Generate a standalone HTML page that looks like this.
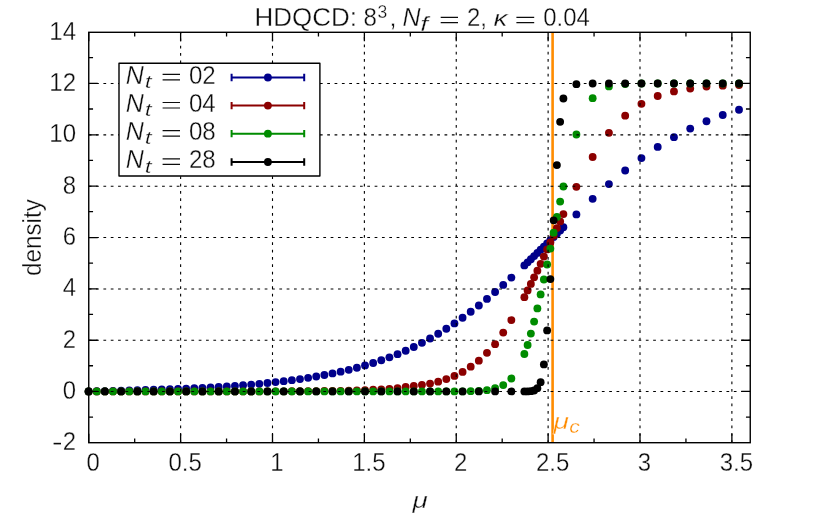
<!DOCTYPE html>
<html><head><meta charset="utf-8"><title>HDQCD density</title>
<style>html,body{margin:0;padding:0;background:#fff;}svg{display:block;will-change:transform;font-family:"Liberation Sans",sans-serif;}text{stroke:#fff;stroke-width:0.32px;}</style>
</head><body>
<svg width="831" height="519" viewBox="0 0 831 519">
<rect x="0" y="0" width="831" height="519" fill="#fff"/>
<text x="254.4" y="26.3" font-size="25" fill="#0c0c0c" textLength="102.5" lengthAdjust="spacingAndGlyphs">HDQCD:</text>
<text x="363.6" y="26.3" font-size="25" fill="#0c0c0c" textLength="13.4" lengthAdjust="spacingAndGlyphs">8</text>
<text x="377.5" y="17.6" font-size="17.5" fill="#0c0c0c">3</text>
<text x="389.5" y="26.3" font-size="25" fill="#0c0c0c">,</text>
<text x="402.6" y="26.3" font-size="25" font-style="italic" fill="#0c0c0c">N</text>
<text x="420.3" y="30.8" font-size="20" font-style="italic" fill="#0c0c0c" textLength="7.8" lengthAdjust="spacingAndGlyphs">f</text>
<path d="M440.7 17.3 H458 M440.7 22.6 H458 M516.4 17.3 H534.2 M516.4 22.6 H534.2" stroke="#0c0c0c" stroke-width="1.2"/>
<text x="466.9" y="26.3" font-size="25" fill="#0c0c0c" textLength="20" lengthAdjust="spacingAndGlyphs">2,</text>
<text x="493.6" y="26.3" font-size="22.5" font-style="italic" fill="#0c0c0c" textLength="14" lengthAdjust="spacingAndGlyphs">&#954;</text>
<text x="543.2" y="26.3" font-size="25" fill="#0c0c0c" textLength="46.6" lengthAdjust="spacingAndGlyphs">0.04</text>
<line x1="552.6" y1="32.3" x2="552.6" y2="442.7" stroke="#ff8c00" stroke-width="2.6"/>
<g fill="#00008b"><circle cx="88.60" cy="391.45" r="3.92"/><circle cx="96.73" cy="391.26" r="3.92"/><circle cx="104.86" cy="391.07" r="3.92"/><circle cx="112.99" cy="390.87" r="3.92"/><circle cx="121.12" cy="390.67" r="3.92"/><circle cx="129.25" cy="390.46" r="3.92"/><circle cx="137.38" cy="390.24" r="3.92"/><circle cx="145.51" cy="390.00" r="3.92"/><circle cx="153.64" cy="389.76" r="3.92"/><circle cx="161.77" cy="389.49" r="3.92"/><circle cx="169.90" cy="389.21" r="3.92"/><circle cx="178.03" cy="388.90" r="3.92"/><circle cx="186.16" cy="388.57" r="3.92"/><circle cx="194.29" cy="388.21" r="3.92"/><circle cx="202.42" cy="387.82" r="3.92"/><circle cx="210.55" cy="387.39" r="3.92"/><circle cx="218.68" cy="386.92" r="3.92"/><circle cx="226.81" cy="386.41" r="3.92"/><circle cx="234.94" cy="385.85" r="3.92"/><circle cx="243.07" cy="385.24" r="3.92"/><circle cx="251.20" cy="384.56" r="3.92"/><circle cx="259.33" cy="383.82" r="3.92"/><circle cx="267.46" cy="383.01" r="3.92"/><circle cx="275.59" cy="382.12" r="3.92"/><circle cx="283.72" cy="381.18" r="3.92"/><circle cx="291.85" cy="380.16" r="3.92"/><circle cx="299.98" cy="379.05" r="3.92"/><circle cx="308.11" cy="377.83" r="3.92"/><circle cx="316.24" cy="376.50" r="3.92"/><circle cx="324.37" cy="375.04" r="3.92"/><circle cx="332.50" cy="373.45" r="3.92"/><circle cx="340.63" cy="371.70" r="3.92"/><circle cx="348.76" cy="369.80" r="3.92"/><circle cx="356.89" cy="367.71" r="3.92"/><circle cx="365.02" cy="365.45" r="3.92"/><circle cx="373.15" cy="362.97" r="3.92"/><circle cx="381.28" cy="360.29" r="3.92"/><circle cx="389.41" cy="357.37" r="3.92"/><circle cx="397.54" cy="354.20" r="3.92"/><circle cx="405.67" cy="350.77" r="3.92"/><circle cx="413.80" cy="346.97" r="3.92"/><circle cx="421.93" cy="342.87" r="3.92"/><circle cx="430.06" cy="338.47" r="3.92"/><circle cx="438.19" cy="333.76" r="3.92"/><circle cx="446.32" cy="328.73" r="3.92"/><circle cx="454.45" cy="323.39" r="3.92"/><circle cx="462.58" cy="317.72" r="3.92"/><circle cx="470.71" cy="311.74" r="3.92"/><circle cx="478.84" cy="305.46" r="3.92"/><circle cx="486.97" cy="298.88" r="3.92"/><circle cx="495.10" cy="292.02" r="3.92"/><circle cx="503.23" cy="284.91" r="3.92"/><circle cx="511.36" cy="277.57" r="3.92"/><circle cx="524.37" cy="265.41" r="3.92"/><circle cx="527.62" cy="262.32" r="3.92"/><circle cx="530.87" cy="259.22" r="3.92"/><circle cx="534.12" cy="256.09" r="3.92"/><circle cx="537.38" cy="252.94" r="3.92"/><circle cx="540.63" cy="249.77" r="3.92"/><circle cx="543.88" cy="246.58" r="3.92"/><circle cx="547.13" cy="243.38" r="3.92"/><circle cx="550.38" cy="240.17" r="3.92"/><circle cx="553.64" cy="236.94" r="3.92"/><circle cx="556.89" cy="233.71" r="3.92"/><circle cx="560.14" cy="230.47" r="3.92"/><circle cx="563.39" cy="227.24" r="3.92"/><circle cx="576.40" cy="214.38" r="3.92"/><circle cx="592.66" cy="198.84" r="3.92"/><circle cx="608.92" cy="184.11" r="3.92"/><circle cx="625.18" cy="170.48" r="3.92"/><circle cx="641.44" cy="158.07" r="3.92"/><circle cx="657.70" cy="146.95" r="3.92"/><circle cx="673.96" cy="137.14" r="3.92"/><circle cx="690.22" cy="128.58" r="3.92"/><circle cx="706.48" cy="121.28" r="3.92"/><circle cx="722.74" cy="115.04" r="3.92"/><circle cx="739.00" cy="109.76" r="3.92"/></g>
<g fill="#8b0000"><circle cx="88.60" cy="391.45" r="3.92"/><circle cx="96.73" cy="391.45" r="3.92"/><circle cx="104.86" cy="391.45" r="3.92"/><circle cx="112.99" cy="391.45" r="3.92"/><circle cx="121.12" cy="391.45" r="3.92"/><circle cx="129.25" cy="391.45" r="3.92"/><circle cx="137.38" cy="391.45" r="3.92"/><circle cx="145.51" cy="391.45" r="3.92"/><circle cx="153.64" cy="391.45" r="3.92"/><circle cx="161.77" cy="391.45" r="3.92"/><circle cx="169.90" cy="391.45" r="3.92"/><circle cx="178.03" cy="391.44" r="3.92"/><circle cx="186.16" cy="391.44" r="3.92"/><circle cx="194.29" cy="391.44" r="3.92"/><circle cx="202.42" cy="391.44" r="3.92"/><circle cx="210.55" cy="391.43" r="3.92"/><circle cx="218.68" cy="391.43" r="3.92"/><circle cx="226.81" cy="391.43" r="3.92"/><circle cx="234.94" cy="391.42" r="3.92"/><circle cx="243.07" cy="391.41" r="3.92"/><circle cx="251.20" cy="391.40" r="3.92"/><circle cx="259.33" cy="391.39" r="3.92"/><circle cx="267.46" cy="391.37" r="3.92"/><circle cx="275.59" cy="391.35" r="3.92"/><circle cx="283.72" cy="391.32" r="3.92"/><circle cx="291.85" cy="391.29" r="3.92"/><circle cx="299.98" cy="391.25" r="3.92"/><circle cx="308.11" cy="391.20" r="3.92"/><circle cx="316.24" cy="391.13" r="3.92"/><circle cx="324.37" cy="391.04" r="3.92"/><circle cx="332.50" cy="390.94" r="3.92"/><circle cx="340.63" cy="390.80" r="3.92"/><circle cx="348.76" cy="390.63" r="3.92"/><circle cx="356.89" cy="390.41" r="3.92"/><circle cx="365.02" cy="390.13" r="3.92"/><circle cx="373.15" cy="389.79" r="3.92"/><circle cx="381.28" cy="389.35" r="3.92"/><circle cx="389.41" cy="388.80" r="3.92"/><circle cx="397.54" cy="388.10" r="3.92"/><circle cx="405.67" cy="387.00" r="3.92"/><circle cx="413.80" cy="386.00" r="3.92"/><circle cx="421.93" cy="384.85" r="3.92"/><circle cx="430.06" cy="383.60" r="3.92"/><circle cx="438.19" cy="381.70" r="3.92"/><circle cx="446.32" cy="379.10" r="3.92"/><circle cx="454.45" cy="375.95" r="3.92"/><circle cx="462.58" cy="371.90" r="3.92"/><circle cx="470.71" cy="366.70" r="3.92"/><circle cx="478.84" cy="360.70" r="3.92"/><circle cx="486.97" cy="352.80" r="3.92"/><circle cx="495.10" cy="344.20" r="3.92"/><circle cx="503.23" cy="332.60" r="3.92"/><circle cx="511.36" cy="320.10" r="3.92"/><circle cx="524.37" cy="297.20" r="3.92"/><circle cx="527.62" cy="290.40" r="3.92"/><circle cx="530.87" cy="283.90" r="3.92"/><circle cx="534.12" cy="277.30" r="3.92"/><circle cx="537.38" cy="270.70" r="3.92"/><circle cx="540.63" cy="263.80" r="3.92"/><circle cx="543.88" cy="256.60" r="3.92"/><circle cx="547.13" cy="249.40" r="3.92"/><circle cx="550.38" cy="242.50" r="3.92"/><circle cx="553.64" cy="235.70" r="3.92"/><circle cx="556.89" cy="228.10" r="3.92"/><circle cx="560.14" cy="221.40" r="3.92"/><circle cx="563.39" cy="214.10" r="3.92"/><circle cx="576.40" cy="186.80" r="3.92"/><circle cx="592.66" cy="157.00" r="3.92"/><circle cx="608.92" cy="132.80" r="3.92"/><circle cx="625.18" cy="115.70" r="3.92"/><circle cx="641.44" cy="103.80" r="3.92"/><circle cx="657.70" cy="96.00" r="3.92"/><circle cx="673.96" cy="91.45" r="3.92"/><circle cx="690.22" cy="88.55" r="3.92"/><circle cx="706.48" cy="86.50" r="3.92"/><circle cx="722.74" cy="85.70" r="3.92"/><circle cx="739.00" cy="85.10" r="3.92"/></g>
<g fill="#008c00"><circle cx="88.60" cy="391.45" r="3.92"/><circle cx="96.73" cy="391.45" r="3.92"/><circle cx="104.86" cy="391.45" r="3.92"/><circle cx="112.99" cy="391.45" r="3.92"/><circle cx="121.12" cy="391.45" r="3.92"/><circle cx="129.25" cy="391.45" r="3.92"/><circle cx="137.38" cy="391.45" r="3.92"/><circle cx="145.51" cy="391.45" r="3.92"/><circle cx="153.64" cy="391.45" r="3.92"/><circle cx="161.77" cy="391.45" r="3.92"/><circle cx="169.90" cy="391.45" r="3.92"/><circle cx="178.03" cy="391.45" r="3.92"/><circle cx="186.16" cy="391.45" r="3.92"/><circle cx="194.29" cy="391.45" r="3.92"/><circle cx="202.42" cy="391.45" r="3.92"/><circle cx="210.55" cy="391.45" r="3.92"/><circle cx="218.68" cy="391.45" r="3.92"/><circle cx="226.81" cy="391.45" r="3.92"/><circle cx="234.94" cy="391.45" r="3.92"/><circle cx="243.07" cy="391.45" r="3.92"/><circle cx="251.20" cy="391.45" r="3.92"/><circle cx="259.33" cy="391.45" r="3.92"/><circle cx="267.46" cy="391.45" r="3.92"/><circle cx="275.59" cy="391.45" r="3.92"/><circle cx="283.72" cy="391.45" r="3.92"/><circle cx="291.85" cy="391.45" r="3.92"/><circle cx="299.98" cy="391.45" r="3.92"/><circle cx="308.11" cy="391.45" r="3.92"/><circle cx="316.24" cy="391.45" r="3.92"/><circle cx="324.37" cy="391.45" r="3.92"/><circle cx="332.50" cy="391.45" r="3.92"/><circle cx="340.63" cy="391.45" r="3.92"/><circle cx="348.76" cy="391.45" r="3.92"/><circle cx="356.89" cy="391.45" r="3.92"/><circle cx="365.02" cy="391.45" r="3.92"/><circle cx="373.15" cy="391.45" r="3.92"/><circle cx="381.28" cy="391.45" r="3.92"/><circle cx="389.41" cy="391.45" r="3.92"/><circle cx="397.54" cy="391.45" r="3.92"/><circle cx="405.67" cy="391.45" r="3.92"/><circle cx="413.80" cy="391.45" r="3.92"/><circle cx="421.93" cy="391.45" r="3.92"/><circle cx="430.06" cy="391.45" r="3.92"/><circle cx="438.19" cy="391.45" r="3.92"/><circle cx="446.32" cy="391.45" r="3.92"/><circle cx="454.45" cy="391.45" r="3.92"/><circle cx="462.58" cy="391.45" r="3.92"/><circle cx="470.71" cy="391.20" r="3.92"/><circle cx="478.84" cy="390.90" r="3.92"/><circle cx="486.97" cy="390.20" r="3.92"/><circle cx="495.10" cy="388.20" r="3.92"/><circle cx="503.23" cy="385.10" r="3.92"/><circle cx="511.36" cy="378.50" r="3.92"/><circle cx="524.37" cy="354.00" r="3.92"/><circle cx="527.62" cy="345.00" r="3.92"/><circle cx="530.87" cy="333.60" r="3.92"/><circle cx="534.12" cy="321.60" r="3.92"/><circle cx="537.38" cy="308.40" r="3.92"/><circle cx="540.63" cy="294.40" r="3.92"/><circle cx="543.88" cy="279.50" r="3.92"/><circle cx="547.13" cy="264.50" r="3.92"/><circle cx="550.38" cy="248.60" r="3.92"/><circle cx="553.64" cy="232.70" r="3.92"/><circle cx="556.89" cy="217.00" r="3.92"/><circle cx="560.14" cy="201.55" r="3.92"/><circle cx="563.39" cy="186.50" r="3.92"/><circle cx="576.40" cy="134.50" r="3.92"/><circle cx="592.66" cy="98.20" r="3.92"/><circle cx="608.92" cy="86.40" r="3.92"/><circle cx="625.18" cy="84.10" r="3.92"/><circle cx="641.44" cy="83.50" r="3.92"/><circle cx="657.70" cy="83.50" r="3.92"/><circle cx="673.96" cy="83.50" r="3.92"/><circle cx="690.22" cy="83.50" r="3.92"/><circle cx="706.48" cy="83.50" r="3.92"/><circle cx="722.74" cy="83.50" r="3.92"/><circle cx="739.00" cy="83.50" r="3.92"/></g>
<g fill="#000000"><circle cx="88.60" cy="391.45" r="3.92"/><circle cx="104.86" cy="391.45" r="3.92"/><circle cx="121.12" cy="391.45" r="3.92"/><circle cx="137.38" cy="391.45" r="3.92"/><circle cx="153.64" cy="391.45" r="3.92"/><circle cx="169.90" cy="391.45" r="3.92"/><circle cx="186.16" cy="391.45" r="3.92"/><circle cx="202.42" cy="391.45" r="3.92"/><circle cx="218.68" cy="391.45" r="3.92"/><circle cx="234.94" cy="391.45" r="3.92"/><circle cx="251.20" cy="391.45" r="3.92"/><circle cx="267.46" cy="391.45" r="3.92"/><circle cx="283.72" cy="391.45" r="3.92"/><circle cx="299.98" cy="391.45" r="3.92"/><circle cx="316.24" cy="391.45" r="3.92"/><circle cx="332.50" cy="391.45" r="3.92"/><circle cx="348.76" cy="391.45" r="3.92"/><circle cx="365.02" cy="391.45" r="3.92"/><circle cx="381.28" cy="391.45" r="3.92"/><circle cx="397.54" cy="391.45" r="3.92"/><circle cx="413.80" cy="391.45" r="3.92"/><circle cx="430.06" cy="391.45" r="3.92"/><circle cx="446.32" cy="391.45" r="3.92"/><circle cx="462.58" cy="391.45" r="3.92"/><circle cx="478.84" cy="391.45" r="3.92"/><circle cx="495.10" cy="391.45" r="3.92"/><circle cx="511.36" cy="391.45" r="3.92"/><circle cx="524.37" cy="391.45" r="3.92"/><circle cx="527.62" cy="391.40" r="3.92"/><circle cx="530.87" cy="391.20" r="3.92"/><circle cx="534.12" cy="390.50" r="3.92"/><circle cx="537.38" cy="388.20" r="3.92"/><circle cx="540.63" cy="382.20" r="3.92"/><circle cx="543.88" cy="364.40" r="3.92"/><circle cx="547.13" cy="330.40" r="3.92"/><circle cx="550.38" cy="279.10" r="3.92"/><circle cx="553.64" cy="220.35" r="3.92"/><circle cx="556.89" cy="165.10" r="3.92"/><circle cx="560.14" cy="121.80" r="3.92"/><circle cx="563.39" cy="98.50" r="3.92"/><circle cx="576.40" cy="84.20" r="3.92"/><circle cx="592.66" cy="83.50" r="3.92"/><circle cx="608.92" cy="83.50" r="3.92"/><circle cx="625.18" cy="83.50" r="3.92"/><circle cx="641.44" cy="83.50" r="3.92"/><circle cx="657.70" cy="83.50" r="3.92"/><circle cx="673.96" cy="83.50" r="3.92"/><circle cx="690.22" cy="83.50" r="3.92"/><circle cx="706.48" cy="83.50" r="3.92"/><circle cx="722.74" cy="83.50" r="3.92"/><circle cx="739.00" cy="83.50" r="3.92"/></g>
<path d="M180.62 443.0 V176 M180.62 63.2 V32.3 M272.50 443.0 V176 M272.50 63.2 V32.3 M364.38 443.0 V32.3 M456.25 443.0 V32.3 M548.12 443.0 V32.3 M640.00 443.0 V32.3 M731.88 443.0 V32.3 M88.75 391.45 H750.25 M88.75 340.25 H750.25 M88.75 288.95 H750.25 M88.75 237.55 H750.25 M88.75 186.20 H750.25 M88.75 134.90 H119 M319.9 134.90 H750.25 M88.75 83.45 H119 M319.9 83.45 H750.25" fill="none" stroke="#000" stroke-width="1.1" stroke-dasharray="2.75 4.58"/>
<path d="M88.75 442.7 v-9 M88.75 32.3 v9 M134.69 442.7 v-4.3 M134.69 32.3 v4.3 M180.62 442.7 v-9 M180.62 32.3 v9 M226.56 442.7 v-4.3 M226.56 32.3 v4.3 M272.50 442.7 v-9 M272.50 32.3 v9 M318.44 442.7 v-4.3 M318.44 32.3 v4.3 M364.38 442.7 v-9 M364.38 32.3 v9 M410.31 442.7 v-4.3 M410.31 32.3 v4.3 M456.25 442.7 v-9 M456.25 32.3 v9 M502.19 442.7 v-4.3 M502.19 32.3 v4.3 M548.12 442.7 v-9 M548.12 32.3 v9 M594.06 442.7 v-4.3 M594.06 32.3 v4.3 M640.00 442.7 v-9 M640.00 32.3 v9 M685.94 442.7 v-4.3 M685.94 32.3 v4.3 M731.88 442.7 v-9 M731.88 32.3 v9 M88.75 417.12 h4.3 M750.25 417.12 h-4.3 M88.75 391.45 h9 M750.25 391.45 h-9 M88.75 365.77 h4.3 M750.25 365.77 h-4.3 M88.75 340.25 h9 M750.25 340.25 h-9 M88.75 314.42 h4.3 M750.25 314.42 h-4.3 M88.75 288.95 h9 M750.25 288.95 h-9 M88.75 263.07 h4.3 M750.25 263.07 h-4.3 M88.75 237.55 h9 M750.25 237.55 h-9 M88.75 211.72 h4.3 M750.25 211.72 h-4.3 M88.75 186.20 h9 M750.25 186.20 h-9 M88.75 160.37 h4.3 M750.25 160.37 h-4.3 M88.75 134.90 h9 M750.25 134.90 h-9 M88.75 109.02 h4.3 M750.25 109.02 h-4.3 M88.75 83.45 h9 M750.25 83.45 h-9 M88.75 57.67 h4.3 M750.25 57.67 h-4.3" fill="none" stroke="#000" stroke-width="1.3"/>
<rect x="88.75" y="32.3" width="661.5" height="410.4" fill="none" stroke="#000" stroke-width="1.4"/>
<rect x="119.0" y="63.2" width="200.9" height="112.8" fill="#fff" stroke="#000" stroke-width="1.4" stroke-linejoin="round"/>
<path d="M231.6 77.5 H304.2 M231.6 73.8 v7.4 M304.2 73.8 v7.4" stroke="#00008b" stroke-width="2" fill="none"/>
<circle cx="267.9" cy="77.5" r="3.92" fill="#00008b"/>
<text x="125.8" y="83.8" font-size="25" font-style="italic" fill="#0c0c0c">N</text>
<text x="144.8" y="88.0" font-size="18" font-style="italic" fill="#0c0c0c" textLength="6.8" lengthAdjust="spacingAndGlyphs">t</text>
<path d="M162.6 74.4 H180 M162.6 79.9 H180" stroke="#0c0c0c" stroke-width="1.2"/>
<text x="188.9" y="83.8" font-size="25" fill="#0c0c0c" textLength="26.8" lengthAdjust="spacingAndGlyphs">02</text>
<path d="M231.6 105.6 H304.2 M231.6 101.89999999999999 v7.4 M304.2 101.89999999999999 v7.4" stroke="#8b0000" stroke-width="2" fill="none"/>
<circle cx="267.9" cy="105.6" r="3.92" fill="#8b0000"/>
<text x="125.8" y="111.9" font-size="25" font-style="italic" fill="#0c0c0c">N</text>
<text x="144.8" y="116.1" font-size="18" font-style="italic" fill="#0c0c0c" textLength="6.8" lengthAdjust="spacingAndGlyphs">t</text>
<path d="M162.6 102.5 H180 M162.6 108.0 H180" stroke="#0c0c0c" stroke-width="1.2"/>
<text x="188.9" y="111.9" font-size="25" fill="#0c0c0c" textLength="26.8" lengthAdjust="spacingAndGlyphs">04</text>
<path d="M231.6 133.65 H304.2 M231.6 129.95000000000002 v7.4 M304.2 129.95000000000002 v7.4" stroke="#008c00" stroke-width="2" fill="none"/>
<circle cx="267.9" cy="133.65" r="3.92" fill="#008c00"/>
<text x="125.8" y="140.0" font-size="25" font-style="italic" fill="#0c0c0c">N</text>
<text x="144.8" y="144.2" font-size="18" font-style="italic" fill="#0c0c0c" textLength="6.8" lengthAdjust="spacingAndGlyphs">t</text>
<path d="M162.6 130.6 H180 M162.6 136.1 H180" stroke="#0c0c0c" stroke-width="1.2"/>
<text x="188.9" y="140.0" font-size="25" fill="#0c0c0c" textLength="26.8" lengthAdjust="spacingAndGlyphs">08</text>
<path d="M231.6 162.0 H304.2 M231.6 158.3 v7.4 M304.2 158.3 v7.4" stroke="#000000" stroke-width="2" fill="none"/>
<circle cx="267.9" cy="162.0" r="3.92" fill="#000000"/>
<text x="125.8" y="168.3" font-size="25" font-style="italic" fill="#0c0c0c">N</text>
<text x="144.8" y="172.5" font-size="18" font-style="italic" fill="#0c0c0c" textLength="6.8" lengthAdjust="spacingAndGlyphs">t</text>
<path d="M162.6 158.9 H180 M162.6 164.4 H180" stroke="#0c0c0c" stroke-width="1.2"/>
<text x="188.9" y="168.3" font-size="25" fill="#0c0c0c" textLength="26.8" lengthAdjust="spacingAndGlyphs">28</text>
<text x="62.7" y="450.3" font-size="25.7" fill="#0c0c0c" textLength="13.3" lengthAdjust="spacingAndGlyphs">2</text>
<path d="M53.6 443.6 H61" stroke="#0c0c0c" stroke-width="1.6"/>
<text x="62.7" y="398.9" font-size="25.7" fill="#0c0c0c" textLength="13.3" lengthAdjust="spacingAndGlyphs">0</text>
<text x="62.7" y="347.6" font-size="25.7" fill="#0c0c0c" textLength="13.3" lengthAdjust="spacingAndGlyphs">2</text>
<text x="62.7" y="296.2" font-size="25.7" fill="#0c0c0c" textLength="13.3" lengthAdjust="spacingAndGlyphs">4</text>
<text x="62.7" y="244.9" font-size="25.7" fill="#0c0c0c" textLength="13.3" lengthAdjust="spacingAndGlyphs">6</text>
<text x="62.7" y="193.5" font-size="25.7" fill="#0c0c0c" textLength="13.3" lengthAdjust="spacingAndGlyphs">8</text>
<text x="49.3" y="142.2" font-size="25.7" fill="#0c0c0c" textLength="26.7" lengthAdjust="spacingAndGlyphs">10</text>
<text x="49.3" y="90.8" font-size="25.7" fill="#0c0c0c" textLength="26.7" lengthAdjust="spacingAndGlyphs">12</text>
<text x="49.3" y="39.5" font-size="25.7" fill="#0c0c0c" textLength="26.7" lengthAdjust="spacingAndGlyphs">14</text>
<text x="86.6" y="471" font-size="25.7" fill="#0c0c0c" textLength="13.3" lengthAdjust="spacingAndGlyphs">0</text>
<text x="168.4" y="471" font-size="25.7" fill="#0c0c0c" textLength="33.4" lengthAdjust="spacingAndGlyphs">0.5</text>
<text x="270.3" y="471" font-size="25.7" fill="#0c0c0c" textLength="13.3" lengthAdjust="spacingAndGlyphs">1</text>
<text x="352.2" y="471" font-size="25.7" fill="#0c0c0c" textLength="33.4" lengthAdjust="spacingAndGlyphs">1.5</text>
<text x="454.1" y="471" font-size="25.7" fill="#0c0c0c" textLength="13.3" lengthAdjust="spacingAndGlyphs">2</text>
<text x="535.9" y="471" font-size="25.7" fill="#0c0c0c" textLength="33.4" lengthAdjust="spacingAndGlyphs">2.5</text>
<text x="637.8" y="471" font-size="25.7" fill="#0c0c0c" textLength="13.3" lengthAdjust="spacingAndGlyphs">3</text>
<text x="719.7" y="471" font-size="25.7" fill="#0c0c0c" textLength="33.4" lengthAdjust="spacingAndGlyphs">3.5</text>
<text x="412.4" y="507.6" font-size="22.5" font-style="italic" fill="#0c0c0c" textLength="15.2" lengthAdjust="spacingAndGlyphs">&#956;</text>
<text transform="translate(40.5 237.6) rotate(-90)" font-size="25" text-anchor="middle" fill="#0c0c0c" textLength="76.8" lengthAdjust="spacingAndGlyphs">density</text>
<text x="553.6" y="429.4" font-size="23" font-style="italic" fill="#ff8c00" textLength="15.4" lengthAdjust="spacingAndGlyphs">&#956;</text>
<text x="569.3" y="433" font-size="18" font-style="italic" fill="#ff8c00" textLength="10.6" lengthAdjust="spacingAndGlyphs">c</text>
</svg>
</body></html>
